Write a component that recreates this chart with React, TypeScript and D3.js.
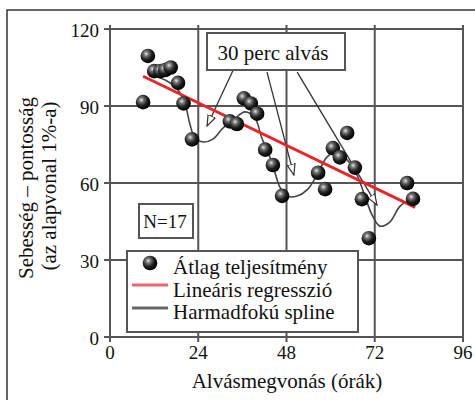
import React from "react";
import * as d3 from "d3";

const xTicks = [0, 24, 48, 72, 96];
const yTicks = [0, 30, 60, 90, 120];

const hours = [9.0, 10.3, 12.0, 13.7, 15.0, 16.5, 18.5, 20.0, 22.3, 32.6, 34.5, 36.4, 38.3, 40.0, 42.2, 44.3, 46.8, 56.6, 58.5, 60.6, 62.5, 64.5, 66.6, 68.5, 70.4, 80.8, 82.4];
const perf = [91.5, 109.5, 103.6, 103.6, 104, 105, 99, 91, 77, 84, 83, 93, 91, 87, 73, 67, 55, 64, 57.6, 73.6, 70, 79.5, 66, 53.7, 38.5, 60, 53.8];

const regX = [9, 83];
const regY = [101.6, 50.5];

const splineX = [10.9, 15.0, 18.5, 20.4, 21.8, 23.1, 25.3, 28.0, 30.7, 33.5, 36.7, 39.4, 41.3, 44.1, 46.2, 48.1, 50.9, 53.6, 56.3, 59.0, 61.7, 64.5, 67.2, 69.4, 71.3, 73.4, 76.1, 78.9, 82.4];
const splineY = [102.1, 100.1, 96.2, 90.8, 82.6, 77.5, 76.0, 77.1, 81.4, 84.5, 87.7, 85.3, 77.5, 67.8, 58.4, 54.9, 54.9, 57.3, 63.1, 70.1, 72.1, 69.0, 63.1, 54.5, 47.5, 43.2, 44.8, 51.0, 54.1];

const arrowTailX = [33.5, 42.7, 50.9];
const arrowTailY = [104, 103.2, 103.2];
const arrowTipX = [26.4, 50.0, 72.6];
const arrowTipY = [82.2, 63.1, 51.4];

const legendLabels = ["Átlag teljesítmény", "Lineáris regresszió", "Harmadfokú spline"];
const annotationText = "30 perc alvás";
const nText = "N=17";
const xTitle = "Alvásmegvonás (órák)";
const yTitle1 = "Sebesség – pontosság";
const yTitle2 = "(az alapvonal 1%-a)";

const W = 475, H = 400;
const FONT = "'Liberation Serif', serif";

export default function App() {
  const x = d3.scaleLinear().domain([0, 96]).range([110, 463]);
  const y = d3.scaleLinear().domain([0, 120]).range([337, 29]);
  const grid = "#555";
  const tx = { fontFamily: FONT, fill: "#111" } as React.CSSProperties;

  const regLine = d3.line<number>().x((_, i) => x(regX[i])).y((_, i) => y(regY[i]));
  const spline = d3
    .line<number>()
    .x((_, i) => x(splineX[i]))
    .y((_, i) => y(splineY[i]))
    .curve(d3.curveCatmullRom.alpha(0.5));

  return (
    <svg width={W} height={H} style={{ position: "absolute", left: 0, top: 0, background: "#fff" }}>
      <defs>
        <radialGradient id="ball" cx="0.38" cy="0.35" r="0.65">
          <stop offset="0" stopColor="#e8e8e8" />
          <stop offset="0.25" stopColor="#777" />
          <stop offset="0.6" stopColor="#222" />
          <stop offset="1" stopColor="#000" />
        </radialGradient>
        <marker id="arr" viewBox="0 0 12 10" refX="11" refY="5" markerWidth="12" markerHeight="10" markerUnits="userSpaceOnUse" orient="auto">
          <path d="M0,1 L11,5 L0,9 Z" fill="#fff" stroke="#333" strokeWidth="1.2" />
        </marker>
      </defs>
      <rect x={7} y={10} width={480} height={400} fill="none" stroke="#333" strokeWidth={1.5} />

      {xTicks.map((t) => (
        <g key={"gx" + t}>
          <line x1={x(t)} x2={x(t)} y1={y(120) - 4} y2={y(0) + 5} stroke={grid} strokeWidth={2} />
          <text x={x(t)} y={y(0) + 22} textAnchor="middle" fontSize={19} style={tx}>{t}</text>
        </g>
      ))}
      {yTicks.map((t) => (
        <g key={"gy" + t}>
          <line x1={x(0) - 6} x2={x(96)} y1={y(t)} y2={y(t)} stroke={grid} strokeWidth={2} />
          <text x={x(0) - 11} y={y(t) + 8} textAnchor="end" fontSize={19} style={tx}>{t}</text>
        </g>
      ))}

      <path d={spline(splineX) || ""} fill="none" stroke="#444" strokeWidth={1.6} />

      {arrowTailX.map((_, i) => (
        <line key={"ar" + i} x1={x(arrowTailX[i])} y1={y(arrowTailY[i])} x2={x(arrowTipX[i])} y2={y(arrowTipY[i])} stroke="#333" strokeWidth={1.3} markerEnd="url(#arr)" />
      ))}

      <path d={regLine(regX) || ""} fill="none" stroke="#e8262a" strokeWidth={3} />

      {hours.map((h, i) => (
        <circle key={"p" + i} cx={x(h)} cy={y(perf[i])} r={7.3} fill="url(#ball)" />
      ))}

      <rect x={207} y={33} width={138} height={37} fill="#fff" stroke="#555" strokeWidth={2} />
      <text x={273} y={60} textAnchor="middle" fontSize={21} style={tx}>{annotationText}</text>

      <rect x={139} y={204} width={54} height={34} fill="#fff" stroke="#555" strokeWidth={2} />
      <text x={165} y={228} textAnchor="middle" fontSize={19} style={tx}>{nText}</text>

      <rect x={127} y={251} width={231} height={81} fill="#fff" stroke="#555" strokeWidth={2} />
      <circle cx={150} cy={263} r={7.3} fill="url(#ball)" />
      <line x1={132} x2={168} y1={285} y2={285} stroke="#e8262a" strokeWidth={3} opacity={0.7} />
      <line x1={132} x2={168} y1={308} y2={308} stroke="#666" strokeWidth={3} />
      {legendLabels.map((l, i) => (
        <text key={l} x={173} y={274 + i * 22.5} fontSize={21} style={tx}>{l}</text>
      ))}

      <text x={287} y={388} textAnchor="middle" fontSize={21} style={tx}>{xTitle}</text>
      <text transform="translate(33,188) rotate(-90)" textAnchor="middle" fontSize={21} style={tx}>{yTitle1}</text>
      <text transform="translate(56,186) rotate(-90)" textAnchor="middle" fontSize={21} style={tx}>{yTitle2}</text>
    </svg>
  );
}
